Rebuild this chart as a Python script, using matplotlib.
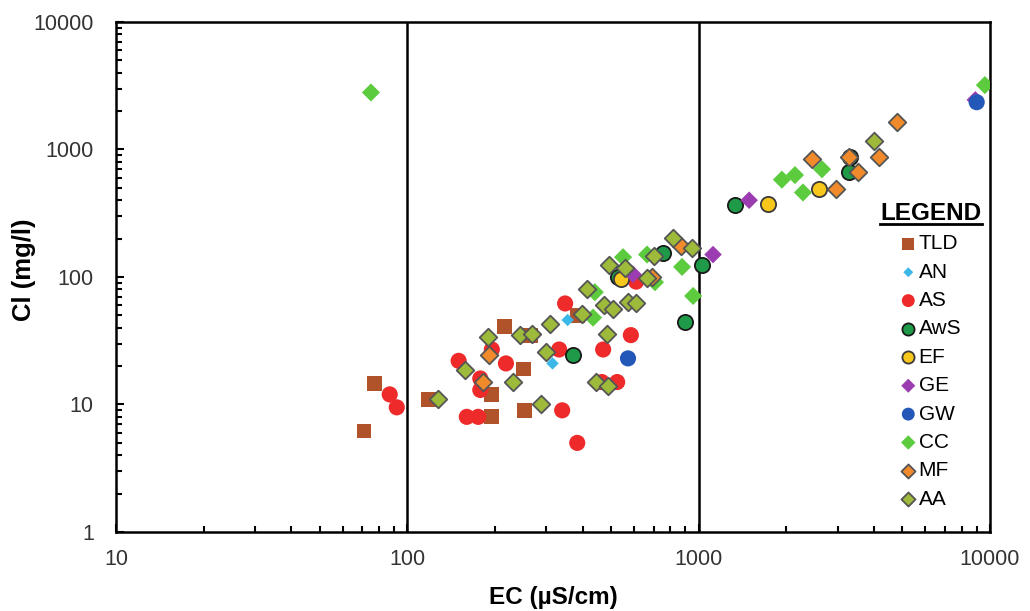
import numpy as np
import matplotlib.pyplot as plt
from matplotlib.lines import Line2D

plt.rcParams['font.family'] = ['Liberation Sans', 'DejaVu Sans']

# EC (uS/cm) and Cl (mg/l) per sample group
tld_ec = [71, 77, 118, 215, 250, 195, 195, 253, 265, 383]
tld_cl = [6.2, 14.5, 11, 41, 19, 12, 8, 9, 35, 50]

an_ec = [355, 315]
an_cl = [46, 21]

as_ec = [87, 92, 150, 195, 218, 178, 178, 160, 175, 340, 383, 348, 332, 470, 585, 525, 610, 465]
as_cl = [12, 9.5, 22, 27, 21, 16, 13, 8, 8, 9, 5, 62, 27, 27, 35, 15, 92, 15]

aws_ec = [370, 900, 1030, 755, 530, 1330, 3300, 3280]
aws_cl = [24.5, 44, 125, 154, 100, 370, 880, 670]

ef_ec = [540, 1730, 2590]
ef_cl = [97, 375, 490]

ge_ec = [595, 1120, 1490, 8900]
ge_cl = [105, 150, 400, 2450]

gw_ec = [572, 9000]
gw_cl = [23, 2350]

cc_ec = [75, 440, 434, 550, 665, 708, 877, 957, 1930, 2140, 2280, 2650, 9600]
cc_cl = [2800, 76, 48, 143, 150, 91, 120, 71, 580, 630, 460, 700, 3200]

mf_ec = [190, 182, 690, 870, 2450, 2960, 3280, 3520, 4160, 4800]
mf_cl = [24.5, 15, 100, 175, 840, 490, 870, 670, 880, 1650]

aa_ec = [127, 158, 189, 230, 243, 268, 288, 300, 308, 398, 414, 485, 445, 489,
         473, 508, 572, 610, 492, 558, 665, 703, 817, 949, 4000]
aa_cl = [11, 18.5, 34, 15, 35, 36, 10, 26, 43, 51, 80, 36, 15, 14,
         60, 56, 64, 62, 124, 118, 98, 146, 202, 169, 1160]

series = [
    ('TLD', tld_ec, tld_cl, 's', '#B0532B', 'none', 115),
    ('AN', an_ec, an_cl, 'D', '#3CB8E8', 'none', 40),
    ('AS', as_ec, as_cl, 'o', '#EE2A2A', 'none', 135),
    ('AwS', aws_ec, aws_cl, 'o', '#1E9A48', '#1a1a1a', 120),
    ('EF', ef_ec, ef_cl, 'o', '#F7C71B', '#3a3a3a', 120),
    ('GE', ge_ec, ge_cl, 'D', '#9B3DB0', 'none', 80),
    ('GW', gw_ec, gw_cl, 'o', '#2358B8', 'none', 135),
    ('CC', cc_ec, cc_cl, 'D', '#5CCB3E', 'none', 85),
    ('MF', mf_ec, mf_cl, 'D', '#F08A2A', '#555555', 80),
    ('AA', aa_ec, aa_cl, 'D', '#9DBA3A', '#555555', 80),
]

fig = plt.figure(figsize=(10.3, 6.11), dpi=100)
ax = fig.add_axes([0.1126, 0.1293, 0.8486, 0.8347])

for name, x, y, m, c, ec, s in series:
    ax.scatter(x, y, marker=m, s=s, c=c, edgecolors=ec, linewidths=1.3, label=name, zorder=3)

ax.axvline(100, color='black', lw=1.8, zorder=2)
ax.axvline(1000, color='black', lw=1.8, zorder=2)

ax.set_xscale('log')
ax.set_yscale('log')
ax.set_xlim(10, 10000)
ax.set_ylim(1, 10000)
ax.set_xticks([10, 100, 1000, 10000])
ax.set_xticklabels(['10', '100', '1000', '10000'])
ax.set_yticks([1, 10, 100, 1000, 10000])
ax.set_yticklabels(['1', '10', '100', '1000', '10000'])

for sp in ax.spines.values():
    sp.set_linewidth(1.8)
ax.tick_params(which='both', direction='in', width=1.5, labelsize=15.5, labelcolor='#333333')
ax.tick_params(which='major', length=6)
ax.tick_params(which='minor', length=4)
ax.tick_params(axis='y', which='both', right=False, pad=16)
ax.tick_params(axis='x', which='both', top=False, pad=12)

ax.set_xlabel('EC (µS/cm)', fontsize=17.5, fontweight='bold', labelpad=12)
ax.set_ylabel('Cl (mg/l)', fontsize=18.5, fontweight='bold')
ax.yaxis.set_label_coords(-0.0915, 0.514)

leg = ax.legend(loc='upper left', bbox_to_anchor=(0.885, 0.60), frameon=False,
                fontsize=15, handletextpad=0.0, labelspacing=0.45,
                handlelength=1.0, borderaxespad=0, markerscale=0.8)

fig.text(0.953, 1 - 220 / 611, 'LEGEND', fontsize=17.5,
         fontweight='bold', ha='right', va='baseline')
fig.add_artist(Line2D([0.854, 0.953], [1 - 224 / 611, 1 - 224 / 611], color='black', lw=2))

fig.savefig('out.png', dpi=100)
